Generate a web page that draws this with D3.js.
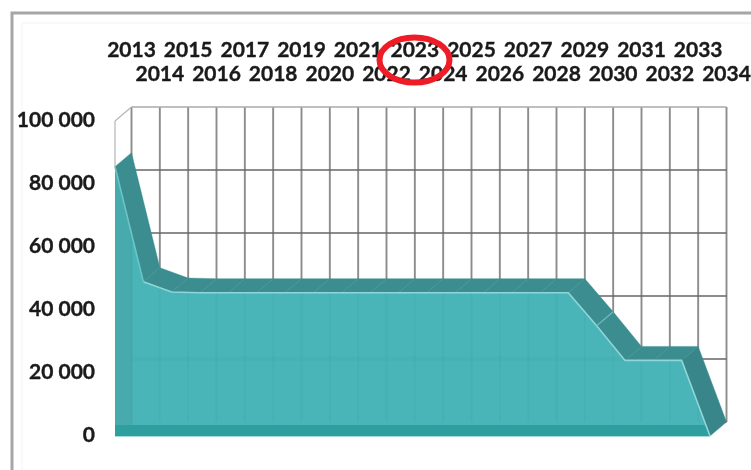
<!DOCTYPE html>
<html><head><meta charset="utf-8">
<script src="https://cdn.jsdelivr.net/npm/d3@7"></script>
<style>html,body{margin:0;padding:0;background:#fff;overflow:hidden}</style>
</head><body>
<script>
const years = ["2013","2014","2015","2016","2017","2018","2019","2020","2021","2022","2023","2024","2025","2026","2027","2028","2029","2030","2031","2032","2033","2034"];
const values = [85500,49000,45700,45500,45500,45500,45500,45500,45500,45500,45500,45500,45500,45500,45500,45500,45500,35000,24000,24000,24000,0];
const yTicks = [0,20000,40000,60000,80000,100000];

const W = 751, H = 470;
const dx = 16.5, dy = 14;
const x = d3.scaleLinear().domain([0, years.length-1]).range([115, 710]);
const y = d3.scaleLinear().domain([0, 100000]).range([436, 121]);
const X = i => x(i) + dx, Y = v => y(v) - dy;

const svg = d3.select("body").append("svg").attr("width",W).attr("height",H)
  .style("display","block").style("background","#fff");
const defs = svg.append("defs");
defs.append("filter").attr("id","soft").append("feGaussianBlur").attr("stdDeviation",0.6);
const g = svg.append("g").attr("filter","url(#soft)");

// outer frame
g.append("rect").attr("x",12).attr("y",13).attr("width",W+20).attr("height",H+20)
  .attr("fill","#fff").attr("stroke","#a6a6a6").attr("stroke-width",3);
g.append("rect").attr("x",22).attr("y",23).attr("width",W+20).attr("height",H+20)
  .attr("fill","none").attr("stroke","#f3f3f3").attr("stroke-width",1);

// back wall grid
g.selectAll(".v").data(years).join("line")
  .attr("x1",(d,i)=>X(i)).attr("x2",(d,i)=>X(i))
  .attr("y1",Y(100000)).attr("y2",Y(0))
  .attr("stroke","#8c8c8c").attr("stroke-width",1.9);
g.selectAll(".h").data(yTicks).join("line")
  .attr("x1",X(0)).attr("x2",X(years.length-1))
  .attr("y1",d=>Y(d)).attr("y2",d=>Y(d))
  .attr("stroke",d=>d===100000?"#aaa":"#666").attr("stroke-width",d=>d===100000?1.6:1.4);
// side wall edge
g.append("path")
  .attr("d",`M${x(0)},${y(100000)}L${X(0)},${Y(100000)}M${x(0)},${y(100000)}L${x(0)},${y(85500)}`)
  .attr("fill","none").attr("stroke","#b5b5b5").attr("stroke-width",1.2);

// top ribbon of the area
const ribbon = g.append("g");
d3.pairs(values.map((v,i)=>[i,v])).forEach(([a,b],k)=>{
  const p = d3.path();
  p.moveTo(x(a[0]),y(a[1])); p.lineTo(x(b[0]),y(b[1]));
  p.lineTo(X(b[0]),Y(b[1])); p.lineTo(X(a[0]),Y(a[1])); p.closePath();
  ribbon.append("path").attr("d",p.toString())
    .attr("fill", k===20 ? "#37858a" : "#3a8d90").attr("stroke","#3a8d90").attr("stroke-width",0.4);
});

// front face
const area = d3.area().x((d,i)=>x(i)).y0(y(0)).y1(d=>y(d));
g.append("path").datum(values).attr("d",area).attr("fill","#4ab5b8");

// left darker strip, clipped to the front face
defs.append("clipPath").attr("id","face").append("path").datum(values).attr("d",area);
const inner = g.append("g").attr("clip-path","url(#face)");
inner.append("rect").attr("x",x(0)).attr("y",y(100000)).attr("width",dx+1).attr("height",y(0)-y(100000))
  .attr("fill","#47abad");
inner.selectAll(".fv").data(years).join("line")
  .attr("x1",(d,i)=>X(i)).attr("x2",(d,i)=>X(i)).attr("y1",y(100000)).attr("y2",Y(0))
  .attr("stroke","#3aa5a8").attr("stroke-opacity",0.25).attr("stroke-width",2);
inner.selectAll(".fh").data([20000]).join("line")
  .attr("x1",X(0)).attr("x2",X(years.length-1)).attr("y1",d=>Y(d)).attr("y2",d=>Y(d))
  .attr("stroke","#3aa5a8").attr("stroke-opacity",0.18).attr("stroke-width",5);
inner.append("rect").attr("x",x(0)).attr("y",Y(0)+3).attr("width",x(21)-x(0)).attr("height",y(0)-Y(0)-3)
  .attr("fill","#2f9e9e");

// light edges
const topLine = d3.line().x((d,i)=>x(i)).y(d=>y(d));
g.append("path").datum(values.slice(1)).attr("d",d3.line().x((d,i)=>x(i+1)).y(d=>y(d)))
  .attr("fill","none").attr("stroke","#8fd6d6").attr("stroke-width",1.6);
g.append("path").datum(values.slice(0,2)).attr("d",topLine)
  .attr("fill","none").attr("stroke","#6cc4c6").attr("stroke-width",1.6);
g.append("line").attr("x1",x(0)).attr("x2",x(21)).attr("y1",y(0)+0.5).attr("y2",y(0)+0.5)
  .attr("stroke","#a5dcdc").attr("stroke-width",1.2);
// seam in the ribbon
g.append("line").attr("x1",x(17)).attr("y1",y(values[17])).attr("x2",X(17)).attr("y2",Y(values[17]))
  .attr("stroke","#6cbcbc").attr("stroke-width",1.2);

// y axis
const yAxis = d3.axisLeft(y).tickValues(yTicks).tickSize(0).tickPadding(20)
  .tickFormat(d=>d3.format(",")(d).replace(/,/g," "));
const ya = g.append("g").attr("transform",`translate(${x(0)},-1.5)`).call(yAxis);
ya.select(".domain").remove();
ya.selectAll("text").attr("font-family","Lato").attr("font-weight",700).attr("font-size",21)
  .attr("fill","#1a1a1a").attr("stroke","#1a1a1a").attr("stroke-width",0.35);

// x labels, two staggered rows on top
const xb = d3.scaleLinear().domain(x.domain()).range([x(0)+dx, x(21)+dx]);
g.selectAll(".xl").data(years).join("text")
  .attr("x",(d,i)=>xb(i)).attr("y",(d,i)=>i%2?81:57).attr("text-anchor","middle")
  .attr("font-family","Lato").attr("font-weight",700).attr("font-size",21)
  .attr("fill","#1a1a1a").attr("stroke","#1a1a1a").attr("stroke-width",0.35).text(d=>d);

// red hand-drawn mark around 2023
g.append("ellipse").attr("cx",414.5).attr("cy",60).attr("rx",35).attr("ry",22.5)
  .attr("fill","none").attr("stroke","#ee1c25").attr("stroke-width",6);
</script>
</body></html>
